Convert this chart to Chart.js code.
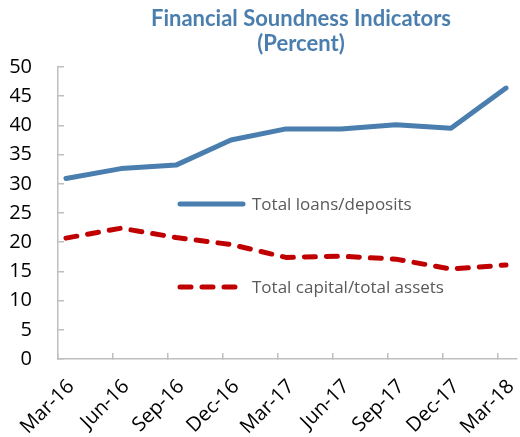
<!DOCTYPE html>
<html>
<head>
<meta charset="utf-8">
<script src="https://cdn.jsdelivr.net/npm/chart.js@4.4.1/dist/chart.umd.min.js"></script>
<style>
    html, body { margin: 0; padding: 0; background: #fff; }
    #wrap { width: 520px; height: 437px; position: relative; }
</style>
</head>
<body>
<div id="wrap"><canvas id="fsi-chart"></canvas></div>
<script>
const categories = ['Mar-16', 'Jun-16', 'Sep-16', 'Dec-16', 'Mar-17', 'Jun-17', 'Sep-17', 'Dec-17', 'Mar-18'];
const loansDeposits = [30.9, 32.6, 33.2, 37.5, 39.4, 39.4, 40.1, 39.5, 46.4];
const capitalAssets = [20.7, 22.4, 20.8, 19.6, 17.4, 17.6, 17.1, 15.4, 16.1];
const seriesNames = ['Total loans/deposits', 'Total capital/total assets'];
const yTicks = [0, 5, 10, 15, 20, 25, 30, 35, 40, 45, 50];
const titleLines = ['Financial Soundness Indicators', '(Percent)'];

const blue = '#4A7EAE';
const red = '#C00000';
const axisGrey = '#BFBFBF';
const tickShift = 0.145; // tick marks sit a little left of the points

// title centred over the plot like the original, not over the canvas
const plotTitle = {
    id: 'plotTitle',
    afterDraw(chart) {
        const ctx = chart.ctx;
        ctx.save();
        ctx.fillStyle = blue;
        ctx.font = 'bold 22px Lato';
        ctx.textAlign = 'center';
        ctx.textBaseline = 'alphabetic';
        ctx.fillText(titleLines[0], 301, 26);
        ctx.fillText(titleLines[1], 301, 51);
        ctx.restore();
    }
};

// legend drawn inside the plot, like the original
const insideLegend = {
    id: 'insideLegend',
    afterDatasetsDraw(chart) {
        const ctx = chart.ctx;
        const items = [
            { y: 204, ds: chart.data.datasets[0] },
            { y: 287, ds: chart.data.datasets[1] }
        ];
        ctx.save();
        items.forEach(item => {
            ctx.beginPath();
            ctx.lineWidth = item.ds.borderWidth;
            ctx.strokeStyle = item.ds.borderColor;
            ctx.lineCap = 'round';
            ctx.setLineDash(item.ds.borderDash || []);
            ctx.moveTo(180, item.y);
            ctx.lineTo(243, item.y);
            ctx.stroke();
            ctx.setLineDash([]);
            ctx.fillStyle = '#595959';
            ctx.font = '17px "Open Sans"';
            ctx.textBaseline = 'middle';
            ctx.fillText(item.ds.label, 252, item.y + 1);
        });
        ctx.restore();
    }
};

new Chart(document.getElementById('fsi-chart'), {
    type: 'line',
    data: {
        datasets: [{
            label: seriesNames[0],
            data: loansDeposits.map((v, i) => ({ x: i, y: v })),
            borderColor: blue,
            borderWidth: 5,
            borderCapStyle: 'round',
            borderJoinStyle: 'round',
            pointRadius: 0,
            tension: 0
        }, {
            label: seriesNames[1],
            data: capitalAssets.map((v, i) => ({ x: i, y: v })),
            borderColor: red,
            borderWidth: 5,
            borderDash: [11, 11],
            borderCapStyle: 'round',
            borderJoinStyle: 'round',
            pointRadius: 0,
            tension: 0
        }]
    },
    options: {
        responsive: true,
        maintainAspectRatio: false,
        animation: false,
        layout: { padding: { left: 10, right: 3, top: 67, bottom: 0 } },
        plugins: {
            legend: { display: false },
            tooltip: { enabled: false },
            title: { display: false }
        },
        scales: {
            x: {
                type: 'linear',
                min: -tickShift,
                max: categories.length - 1 + 0.2,
                afterBuildTicks: (axis) => {
                    axis.ticks = categories.map((c, i) => ({ value: i - tickShift }));
                },
                afterFit: (axis) => {
                    // rotated labels may hang past the plot edges, as they do in the original
                    axis.paddingLeft = 0;
                    axis.paddingRight = 0;
                    axis.height = 78;
                },
                grid: { drawOnChartArea: false, drawTicks: true, tickLength: -6, color: axisGrey, lineWidth: 1.5 },
                border: { color: axisGrey, width: 1.5 },
                ticks: {
                    callback: (value, index) => categories[index],
                    minRotation: 45,
                    maxRotation: 45,
                    labelOffset: 13,
                    padding: 22,
                    color: '#000',
                    font: { family: 'Open Sans', size: 20 }
                }
            },
            y: {
                min: 0,
                max: 50,
                afterBuildTicks: (axis) => {
                    axis.ticks = yTicks.map(v => ({ value: v }));
                },
                afterFit: (axis) => {
                    axis.width = 48;
                },
                grid: { drawOnChartArea: false, drawTicks: true, tickLength: -6, color: axisGrey, lineWidth: 1.5 },
                border: { color: axisGrey, width: 1.5 },
                ticks: {
                    padding: 32,
                    color: '#000',
                    font: { family: 'Open Sans', size: 20 }
                }
            }
        }
    },
    plugins: [plotTitle, insideLegend]
});
</script>
</body>
</html>
